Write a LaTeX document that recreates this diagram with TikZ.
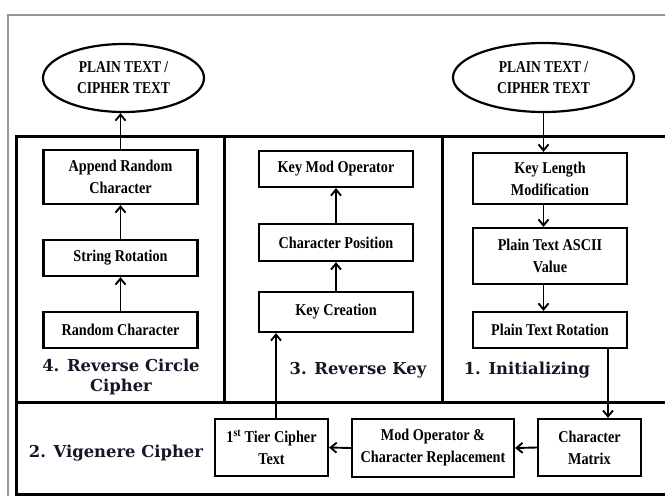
\documentclass[tikz,border=0pt]{standalone}
\usepackage{fontspec}
\newfontfamily\boxfont[FakeStretch=0.86]{Liberation Serif}
\newfontfamily\ellfont[FakeStretch=0.82]{Liberation Serif}
\newfontfamily\labfont{DejaVu Serif}
\usetikzlibrary{arrows.meta,shapes.geometric}
\definecolor{labelcol}{RGB}{22,22,40}
\definecolor{framegray}{RGB}{150,150,150}
\begin{document}
\begin{tikzpicture}[x=1pt,y=-1pt,
  box/.style={draw,line width=2.2pt,minimum width=154pt,minimum height=36pt,inner sep=0pt,align=center,
    font=\boxfont\bfseries\fontsize{16.5}{22}\selectfont},
  ell/.style={draw,ellipse,line width=2.2pt,inner sep=0pt,align=center,
    font=\ellfont\bfseries\fontsize{16.5}{21}\selectfont},
  seclabel/.style={align=center,text=labelcol,inner sep=0pt,
    font=\labfont\bfseries\fontsize{16.4}{20}\selectfont},
  arr/.style={line width=1.9pt,-{Straight Barb[length=6pt,width=10pt]}},
  panel/.style={line width=3pt}]
\useasboundingbox (0,0) rectangle (665,496);
% outer gray frame
\draw[framegray,line width=2pt] (8,497) -- (8,15) -- (667,15);
% main panel
\draw[panel] (667,136) -- (16,136) -- (16,494) -- (667,494);
\draw[panel] (16,402) -- (667,402);
\draw[panel] (224,136) -- (224,402);
\draw[panel] (442,136) -- (442,402);
% ellipses
\node[ell,minimum width=161pt,minimum height=68pt] (lell) at (123.5,78) {PLAIN TEXT /\\CIPHER TEXT};
\node[ell,minimum width=181pt,minimum height=69pt] (rell) at (543.5,77.5) {PLAIN TEXT /\\CIPHER TEXT};
% section 4
\node[box,minimum height=54pt] (append) at (120.5,177) {Append Random\\Character};
\node[box] (strrot) at (120.5,258) {String Rotation};
\node[box] (randchar) at (120.5,330) {Random Character};
\node[seclabel] (lab4) at (121,377) {4. Reverse Circle\\Cipher};
% section 3
\node[box] (keymod) at (336,169) {Key Mod Operator};
\node[box,minimum height=37pt] (charpos) at (336,242.5) {Character Position};
\node[box,minimum height=40pt] (keycre) at (336,312) {Key Creation};
\node[seclabel] (lab3) at (358,370) {3. Reverse Key};
% section 1
\node[box,minimum height=51pt] (keylen) at (550,178.5) {Key Length\\Modification};
\node[box,minimum height=56pt] (ascii) at (550,256) {Plain Text ASCII\\Value};
\node[box] (ptrot) at (550,330) {Plain Text Rotation};
\node[seclabel] (lab1) at (527,370) {1. Initializing};
% section 2
\node[box,minimum width=113pt,minimum height=57pt] (tier) at (271.5,447.5) {1\textsuperscript{st} Tier Cipher\\Text};
\node[box,minimum width=162pt,minimum height=58pt] (modop) at (433,448) {Mod Operator \&\\Character Replacement};
\node[box,minimum width=103pt,minimum height=57pt] (cm) at (589.5,447.5) {Character\\Matrix};
\node[seclabel] (lab2) at (116,453) {2. Vigenere Cipher};
% connectors
\draw[arr] (append.north) -- (append.north |- lell.south);
\draw[arr] (strrot) -- (append);
\draw[arr] (randchar) -- (strrot);
\draw[arr] (keycre) -- (charpos);
\draw[arr] (charpos) -- (keymod);
\draw[arr] (rell.south) -- (rell.south |- keylen.north);
\draw[arr] (keylen.south -| rell.south) -- (ascii.north -| rell.south);
\draw[arr] (ascii.south -| rell.south) -- (ptrot.north -| rell.south);
\coordinate (ptdown) at (608,348);
\draw[arr] (ptrot.south -| ptdown) -- (cm.north -| ptdown);
\draw[arr] (cm.west) -- (modop.east);
\draw[arr] (modop.west) -- (tier.east);
\coordinate (tierup) at (276,400);
\draw[arr] (tier.north -| tierup) -- (keycre.south -| tierup);
\end{tikzpicture}
\end{document}
